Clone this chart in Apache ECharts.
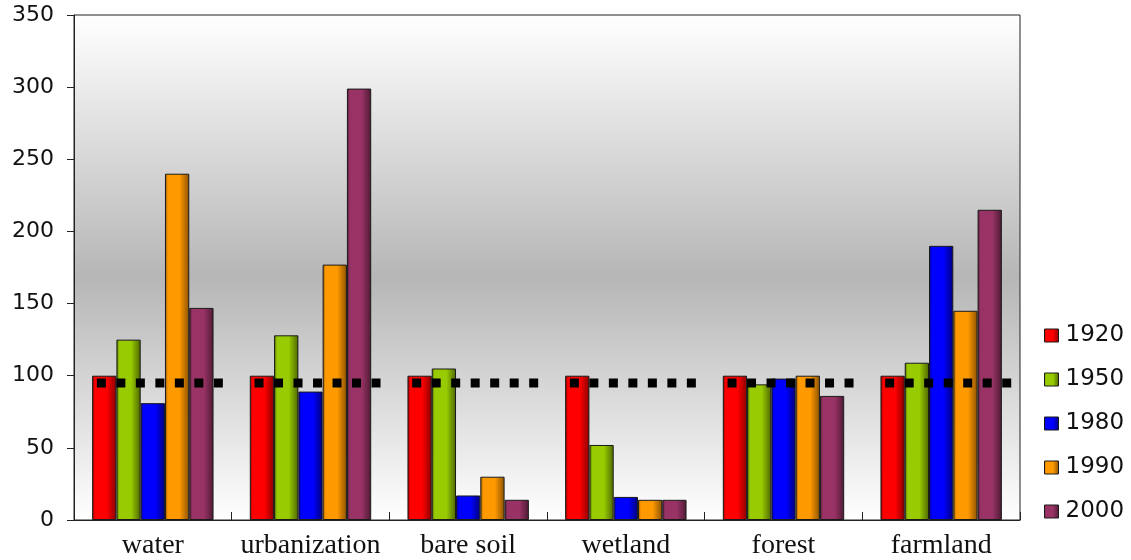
<!DOCTYPE html>
<html>
<head>
<meta charset="utf-8">
<script src="https://cdn.jsdelivr.net/npm/echarts@6/dist/echarts.min.js"></script>
<style>html,body{margin:0;padding:0;background:#fff;}#c{width:1131px;height:560px;}</style>
</head>
<body>
<div id="c"></div>
<script>
var categories = ['water', 'urbanization', 'bare soil', 'wetland', 'forest', 'farmland'];
var years = ['1920', '1950', '1980', '1990', '2000'];
var v1920 = [100, 100, 100, 100, 100, 100];
var v1950 = [125, 128, 105, 52, 94, 109];
var v1980 = [81, 89, 17, 16, 98, 190];
var v1990 = [240, 177, 30, 14, 100, 145];
var v2000 = [147, 299, 14, 14, 86, 215];
var baseline = [95, 95, 95, 95, 95, 95];
var yTicks = [0, 50, 100, 150, 200, 250, 300, 350];

var colors = ['#ff0000', '#99cc00', '#0000ff', '#ff9900', '#993366'];
var dark = ['#8a0000', '#4d6600', '#00007a', '#8a5200', '#4d1a33'];
var seriesValues = [v1920, v1950, v1980, v1990, v2000];

function barFill(i) {
  return new echarts.graphic.LinearGradient(0, 0, 1, 0, [
    {offset: 0, color: dark[i]},
    {offset: 0.12, color: colors[i]},
    {offset: 0.6, color: colors[i]},
    {offset: 1, color: dark[i]}
  ]);
}

var series = years.map(function (y, i) {
  return {
    name: y,
    type: 'bar',
    data: seriesValues[i],
    barGap: '0%',
    barCategoryGap: '23%',
    itemStyle: {color: barFill(i), borderColor: '#1a1a1a', borderWidth: 1},
    emphasis: {disabled: true}
  };
});

series.push({
  name: 'baseline',
  type: 'custom',
  data: baseline.map(function (v, i) { return [i, v]; }),
  encode: {x: 0, y: 1},
  z: 10,
  silent: true,
  renderItem: function (params, api) {
    var p = api.coord([api.value(0), api.value(1)]);
    var band = api.size([1, 0])[0];
    return {
      type: 'line',
      shape: {x1: p[0] - band * 0.355, y1: p[1], x2: p[0] + band * 0.47, y2: p[1]},
      style: {stroke: '#000', lineWidth: 9, lineDash: [9, 10.5]}
    };
  }
});

var chart = echarts.init(document.getElementById('c'), null, {renderer: 'canvas'});
chart.setOption({
  animation: false,
  backgroundColor: '#ffffff',
  grid: {
    left: 74, right: 111, top: 15, bottom: 39,
    show: true,
    borderColor: '#222',
    borderWidth: 1,
    backgroundColor: new echarts.graphic.LinearGradient(0, 0, 0, 1, [
      {offset: 0, color: '#ffffff'},
      {offset: 0.52, color: '#b6b6b6'},
      {offset: 1, color: '#ffffff'}
    ])
  },
  legend: {
    orient: 'vertical',
    left: 1039,
    top: 319,
    data: years,
    icon: 'rect',
    itemWidth: 14,
    itemHeight: 13,
    itemGap: 21,
    textStyle: {fontFamily: 'DejaVu Sans', fontSize: 23, color: '#111', padding: [0, 0, 0, 2]},
    itemStyle: {borderColor: '#1a1a1a', borderWidth: 1}
  },
  xAxis: {
    type: 'category',
    data: categories,
    axisLine: {lineStyle: {color: '#222', width: 1}},
    axisTick: {show: true, inside: true, length: 8, interval: 0, lineStyle: {color: '#222'}},
    axisLabel: {interval: 0, fontFamily: 'Liberation Serif', fontSize: 28, color: '#111', margin: 12}
  },
  yAxis: {
    type: 'value',
    min: yTicks[0],
    max: yTicks[yTicks.length - 1],
    interval: 50,
    splitLine: {show: false},
    axisLine: {show: true, lineStyle: {color: '#222', width: 1}},
    axisTick: {show: true, length: 7, lineStyle: {color: '#222'}},
    axisLabel: {fontFamily: 'DejaVu Sans', fontSize: 22, color: '#111', margin: 20}
  },
  series: series
});
</script>
</body>
</html>
